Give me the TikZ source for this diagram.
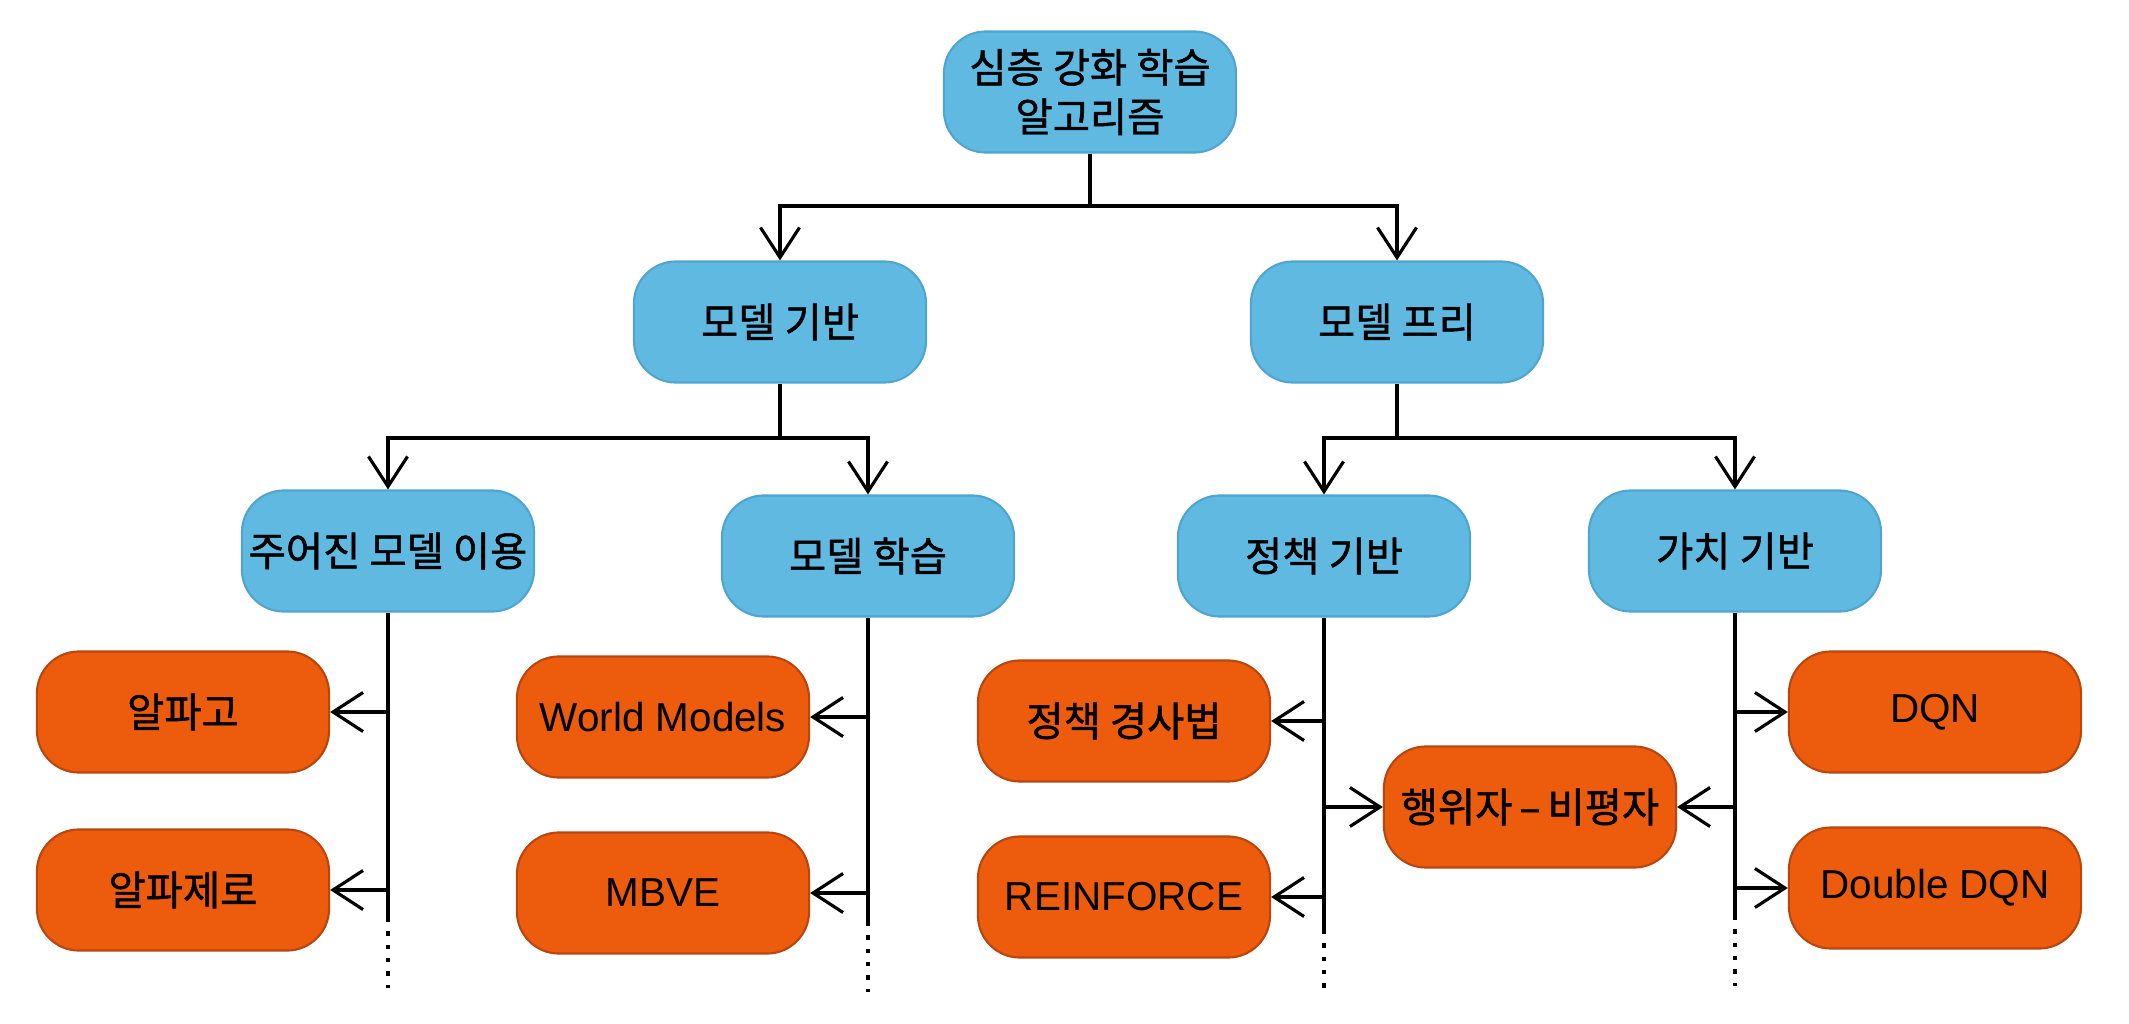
\documentclass[tikz,border=0pt]{standalone}
\usepackage{fontspec}
\setmainfont{Liberation Sans}
\newfontfamily\krfont[FakeBold=1.2]{Noto Sans CJK KR}
\usetikzlibrary{arrows.meta}

\definecolor{cajaazul}{RGB}{96,185,225}
\definecolor{bordeazul}{RGB}{80,165,208}
\definecolor{cajanaranja}{RGB}{236,92,12}
\definecolor{bordenaranja}{RGB}{185,70,15}

\begin{document}
\begin{tikzpicture}[x=0.01cm, y=-0.01cm,
  caja/.style={rounded corners=0.42cm, minimum width=2.92cm, minimum height=1.21cm,
    inner sep=0pt, align=center, line width=0.6pt, font=\fontsize{11.5}{14}\selectfont},
  azul/.style={caja, fill=cajaazul, draw=bordeazul},
  naranja/.style={caja, fill=cajanaranja, draw=bordenaranja},
  linea/.style={line width=0.9pt},
  flecha/.style={linea, -{Straight Barb[length=3mm, width=3.9mm]}},
  puntos/.style={linea, dash pattern=on 1.2pt off 2.6pt}]
\useasboundingbox (0,0) rectangle (2129,1024);

% Nodos azules
\node[azul] (raiz) at (1090,92) {\krfont 심층 강화 학습\\\krfont 알고리즘};
\node[azul] (mb) at (780,322) {\krfont 모델 기반};
\node[azul] (mf) at (1397,322) {\krfont 모델 프리};
\node[azul] (jm) at (388,551) {\krfont 주어진 모델 이용};
\node[azul] (ml) at (868,556) {\krfont 모델 학습};
\node[azul] (jb) at (1324,556) {\krfont 정책 기반};
\node[azul] (gb) at (1735,551) {\krfont 가치 기반};

% Nodos naranjas
\node[naranja] (ag) at (183,712) {\krfont 알파고};
\node[naranja] (az) at (183,890) {\krfont 알파제로};
\node[naranja] (wm) at (663,717) {World Models};
\node[naranja] (mbve) at (663,893) {MBVE};
\node[naranja] (pg) at (1124,721) {\krfont 정책 경사법};
\node[naranja] (rf) at (1124,897) {REINFORCE};
\node[naranja] (ac) at (1530,807) {\krfont 행위자{\,}–{\,}비평자};
\node[naranja] (dqn) at (1935,712) {DQN};
\node[naranja] (ddqn) at (1935,888) {Double DQN};

% Ramas del arbol
\coordinate (b1) at (1090,206);
\coordinate (b2) at (780,438);
\coordinate (b3) at (1397,438);
\draw[linea] (raiz.south) -- (b1);
\draw[flecha] (b1) -| (mb.north);
\draw[flecha] (b1) -| (mf.north);
\draw[linea] (mb.south) -- (b2);
\draw[flecha] (b2) -| (jm.north);
\draw[flecha] (b2) -| (ml.north);
\draw[linea] (mf.south) -- (b3);
\draw[flecha] (b3) -| (jb.north);
\draw[flecha] (b3) -| (gb.north);

% Troncos verticales
\coordinate (f1) at (388,918);
\coordinate (f2) at (868,922);
\coordinate (f3) at (1324,930);
\coordinate (f4) at (1735,916);
\draw[linea] (jm.south) -- (f1);
\draw[linea] (ml.south) -- (f2);
\draw[linea] (jb.south) -- (f3);
\draw[linea] (gb.south) -- (f4);
\draw[puntos] (f1) -- ++(0,70);
\draw[puntos] (f2) -- ++(0,70);
\draw[puntos] (f3) -- ++(0,62);
\draw[puntos] (f4) -- ++(0,70);

% Flechas a los algoritmos
\draw[flecha] (jm.south |- ag.east) -- (ag.east);
\draw[flecha] (jm.south |- az.east) -- (az.east);
\draw[flecha] (ml.south |- wm.east) -- (wm.east);
\draw[flecha] (ml.south |- mbve.east) -- (mbve.east);
\draw[flecha] (jb.south |- pg.east) -- (pg.east);
\draw[flecha] (jb.south |- rf.east) -- (rf.east);
\draw[flecha] (jb.south |- ac.west) -- (ac.west);
\draw[flecha] (gb.south |- ac.east) -- (ac.east);
\draw[flecha] (gb.south |- dqn.west) -- (dqn.west);
\draw[flecha] (gb.south |- ddqn.west) -- (ddqn.west);
\end{tikzpicture}
\end{document}
